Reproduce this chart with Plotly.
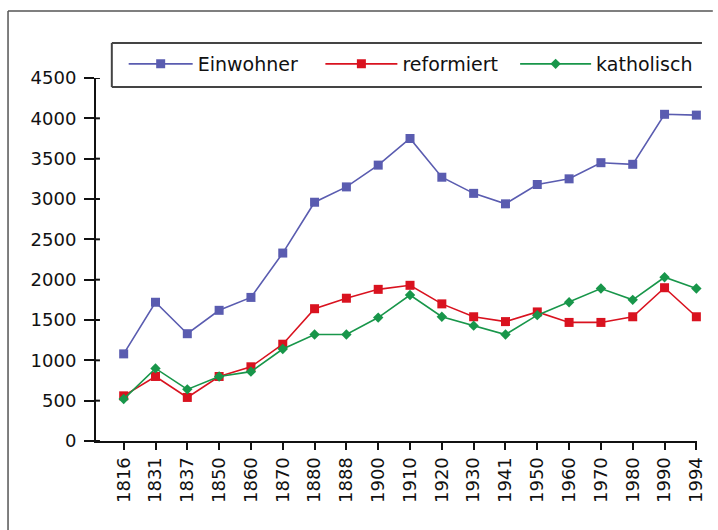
import plotly.graph_objects as go

# Census years and population by denomination
years = ["1816", "1831", "1837", "1850", "1860", "1870", "1880", "1888", "1900", "1910",
         "1920", "1930", "1941", "1950", "1960", "1970", "1980", "1990", "1994"]
einwohner = [1080, 1720, 1330, 1620, 1780, 2330, 2960, 3150, 3420, 3750,
             3270, 3070, 2940, 3180, 3250, 3450, 3430, 4050, 4040]
reformiert = [560, 800, 540, 800, 920, 1200, 1640, 1770, 1880, 1930,
              1700, 1540, 1480, 1600, 1470, 1470, 1540, 1900, 1540]
katholisch = [520, 900, 640, 800, 860, 1140, 1320, 1320, 1530, 1810,
              1540, 1430, 1320, 1560, 1720, 1890, 1750, 2030, 1890]
y_ticks = [0, 500, 1000, 1500, 2000, 2500, 3000, 3500, 4000, 4500]

W, H = 718, 530
ML, MR, MT, MB = 96, 14, 78, 89
PW, PH = W - ML - MR, H - MT - MB
FONT = "DejaVu Sans"
INK = "#111"


def px(x):
    return (x - ML) / PW


def py(y):
    return (H - MB - y) / PH


fig = go.Figure()
# one single-entry legend per series, so each entry can be placed on its own
series = [
    ("Einwohner", einwohner, "#5a5cb0", "square", 9, "legend", 124, 64),
    ("reformiert", reformiert, "#d9121f", "square", 9, "legend2", 323, 72),
    ("katholisch", katholisch, "#18964a", "diamond", 8, "legend3", 520, 71),
]
legends = {}
for name, vals, color, sym, size, leg, lx, iw in series:
    fig.add_trace(go.Scatter(
        x=years, y=vals, name=name, mode="lines+markers",
        line=dict(color=color, width=1.6),
        marker=dict(symbol=sym, size=size, color=color),
        cliponaxis=False, legend=leg,
    ))
    legends[leg] = dict(
        orientation="h", x=px(lx), y=py(45), xanchor="left", yanchor="top",
        bgcolor="rgba(0,0,0,0)", borderwidth=0, itemwidth=iw,
        font=dict(family=FONT, size=19, color=INK),
    )

n = len(years)
x_range = [-0.87, n - 1 + 0.02]

fig.update_layout(
    width=W, height=H,
    margin=dict(l=ML, r=MR, t=MT, b=MB, pad=0),
    paper_bgcolor="white", plot_bgcolor="white",
    font=dict(family=FONT, size=18, color=INK),
    showlegend=True,
    **legends,
    xaxis=dict(
        type="category", categoryarray=years, range=x_range,
        showline=True, linecolor=INK, linewidth=2,
        ticks="outside", ticklen=7, tickwidth=2, tickcolor=INK,
        tickangle=-90, showgrid=False, zeroline=False,
        tickfont=dict(family=FONT, size=18, color=INK),
    ),
    yaxis=dict(
        range=[0, 4500], tickvals=y_ticks,
        showline=True, linecolor=INK, linewidth=2,
        ticks="outside", ticklen=10, tickwidth=2, tickcolor=INK,
        showgrid=False, zeroline=False, ticklabelstandoff=4,
        tickfont=dict(family=FONT, size=18, color=INK),
    ),
)

shapes = []
# inner halves of the tick marks, so each tick crosses its axis line
for yr in years:
    shapes.append(dict(type="line", xref="x", yref="paper", x0=yr, x1=yr,
                       y0=0, y1=9 / PH, line=dict(color=INK, width=2), layer="above"))
for v in y_ticks:
    shapes.append(dict(type="line", xref="paper", yref="y", x0=0, x1=4 / PW,
                       y0=v, y1=v, line=dict(color=INK, width=2), layer="above"))

# outer frame and legend box
frame = dict(color="#555", width=1.5)
box = dict(color="#444", width=2)
shapes += [
    dict(type="line", xref="paper", yref="paper", x0=px(7), y0=py(11), x1=px(720), y1=py(11), line=frame),
    dict(type="line", xref="paper", yref="paper", x0=px(7), y0=py(11), x1=px(7), y1=py(532), line=frame),
    dict(type="line", xref="paper", yref="paper", x0=px(112), y0=py(43), x1=px(709), y1=py(43), line=box),
    dict(type="line", xref="paper", yref="paper", x0=px(112), y0=py(87), x1=px(709), y1=py(87), line=box),
    dict(type="line", xref="paper", yref="paper", x0=px(112), y0=py(43), x1=px(112), y1=py(87), line=box),
]
fig.update_layout(shapes=shapes)

fig.write_html("out.html")
